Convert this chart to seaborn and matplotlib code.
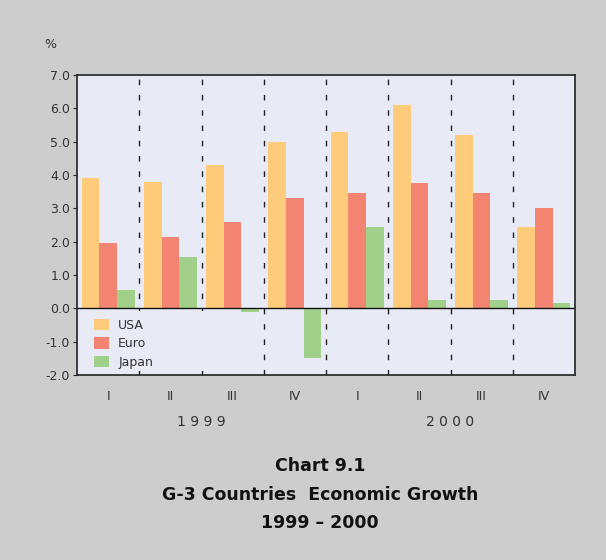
import matplotlib
matplotlib.use("Agg")
import matplotlib.pyplot as plt
from matplotlib.patches import Rectangle
import seaborn as sns
import pandas as pd

quarters = ["1999 I", "1999 II", "1999 III", "1999 IV", "2000 I", "2000 II", "2000 III", "2000 IV"]
quarter_labels = ["I", "II", "III", "IV", "I", "II", "III", "IV"]
years = ["1 9 9 9", "2 0 0 0"]
series = ["USA", "Euro", "Japan"]
usa = [3.9, 3.8, 4.3, 5.0, 5.3, 6.1, 5.2, 2.45]
euro = [1.95, 2.15, 2.6, 3.3, 3.45, 3.75, 3.45, 3.0]
japan = [0.55, 1.55, -0.1, -1.5, 2.45, 0.25, 0.25, 0.15]
colors = ["#FDCB7A", "#F38471", "#A0D08A"]

rows = []
for name, vals in zip(series, [usa, euro, japan]):
    for q, v in zip(quarters, vals):
        rows.append({"quarter": q, "series": name, "value": v})
df = pd.DataFrame(rows)

sns.set_style("white")
plt.rcParams["font.family"] = ["DejaVu Sans"]

fig = plt.figure(figsize=(6.06, 5.6), dpi=100)
fig.patch.set_facecolor("#CDCDCD")
ax = fig.add_axes([77/606, 1-375/560, (575-77)/606, 300/560])
bg = "#E8EBF6"
ax.set_facecolor(bg)

sns.barplot(data=df, x="quarter", y="value", hue="series", order=quarters,
            hue_order=series, palette=colors, width=0.85, ax=ax,
            saturation=1, edgecolor="none", linewidth=0)

ax.set_xlim(-0.5, 7.5)
ax.set_ylim(-2, 7)
ax.set_yticks(range(-2, 8))
ax.set_yticklabels([f"{v:.1f}" for v in range(-2, 8)], fontsize=9, color="#333333")
ax.set_xticks(range(8))
ax.set_xticklabels(quarter_labels, fontsize=9, color="#333333")
ax.tick_params(axis="x", length=0, pad=11)
ax.tick_params(axis="y", length=3, direction="out", left=True, pad=2)
ax.set_xlabel("")
ax.set_ylabel("")

for xb in [0.5 + i for i in range(7)]:
    ax.axvline(xb, color="#222222", linestyle=(0, (4, 7)), linewidth=1, zorder=0)
ax.axhline(0, color="#111111", linewidth=1)

# legend background box hiding the separator lines behind it
ax.add_patch(Rectangle((0.0, 0.013), 0.35, 0.2, transform=ax.transAxes,
                       facecolor=bg, edgecolor="none", zorder=0.5))

for sp in ax.spines.values():
    sp.set_visible(True)
    sp.set_color("#222222")
    sp.set_linewidth(1.2)

leg = ax.legend(loc="upper left", bbox_to_anchor=(0.025, 0.205), frameon=False,
                fontsize=9, handlelength=1.2, handleheight=1.05, labelspacing=0.45,
                handletextpad=0.7, borderaxespad=0)
for t in leg.get_texts():
    t.set_color("#333333")

ax.text(1.5, -0.135, years[0], transform=ax.get_xaxis_transform(), ha="center",
        va="top", fontsize=10, color="#333333")
ax.text(5.5, -0.135, years[1], transform=ax.get_xaxis_transform(), ha="center",
        va="top", fontsize=10, color="#333333")

fig.text(50/606, 1-45/560, "%", ha="center", va="center", fontsize=9, color="#333333")

for txt, yy in [("Chart 9.1", 466), ("G-3 Countries  Economic Growth", 495), ("1999 \u2013 2000", 523)]:
    fig.text(320/606, 1-yy/560, txt, ha="center", va="center", fontsize=12.5,
             fontweight="bold", color="#111111")

fig.savefig("out.png", dpi=100, facecolor=fig.get_facecolor())
